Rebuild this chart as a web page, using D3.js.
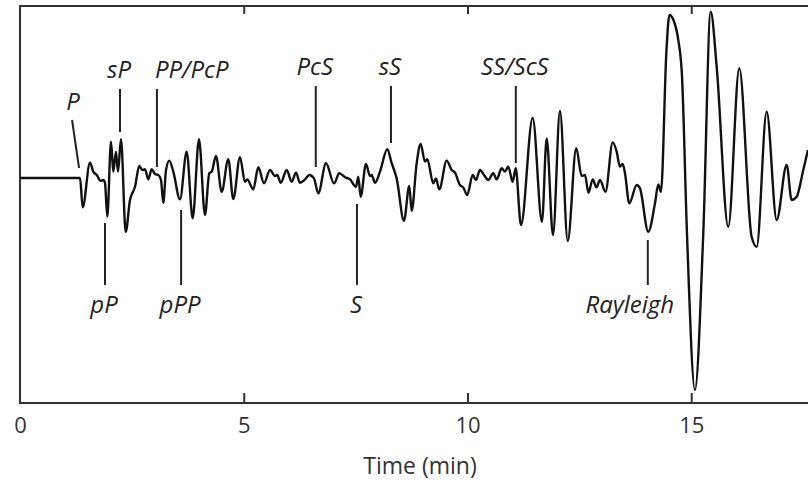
<!DOCTYPE html>
<html lang="en">
<head>
<meta charset="UTF-8"/>
<title>Seismogram - body and surface wave arrivals</title>
<script src="https://d3js.org/d3.v7.min.js"></script>
<style>
	body { margin: 0; background: #fff; }
	.trace { fill: none; stroke: #111; stroke-width: 2.4; stroke-linejoin: round; }
	.frame { fill: none; stroke: #333; stroke-width: 2; }
	.axis line { stroke: #333; stroke-width: 2; }
	.axis text { font-family: "Open Sans", sans-serif; font-size: 22px; fill: #333; }
	.phase { font-family: "Open Sans", sans-serif; font-style: italic; font-size: 24px; fill: #222; }
	.mark { stroke: #222; stroke-width: 2; }
	.xlabel { font-family: "Open Sans", sans-serif; font-size: 23px; fill: #333; }
</style>
</head>
<body>
<div id="chart"></div>
<script>
// trace: time (min) and ground motion (arbitrary units)
var times = [0, 1.341, 1.401, 1.564, 1.638, 1.714, 1.803, 1.861, 1.899, 1.951,
	2.034, 2.085, 2.145, 2.190, 2.257, 2.362, 2.458, 2.570, 2.666, 2.733,
	2.793, 2.867, 2.943, 3.017, 3.091, 3.151, 3.202, 3.263, 3.336, 3.426,
	3.575, 3.725, 3.859, 4.000, 4.134, 4.230, 4.284, 4.380, 4.507, 4.655,
	4.766, 4.916, 5.028, 5.079, 5.213, 5.325, 5.453, 5.587, 5.698, 5.750,
	5.826, 5.960, 6.072, 6.168, 6.257, 6.369, 6.465, 6.570, 6.666, 6.838,
	7.017, 7.135, 7.263, 7.374, 7.508, 7.560, 7.613, 7.732, 7.821, 7.859,
	7.933, 8.045, 8.208, 8.306, 8.418, 8.581, 8.699, 8.753, 8.865, 8.954,
	9.050, 9.102, 9.236, 9.296, 9.370, 9.535, 9.647, 9.721, 9.832, 9.906,
	9.995, 10.116, 10.190, 10.279, 10.369, 10.465, 10.577, 10.653, 10.764, 10.838,
	10.912, 11.010, 11.077, 11.196, 11.457, 11.665, 11.770, 11.911, 12.067, 12.241,
	12.431, 12.552, 12.626, 12.704, 12.798, 12.883, 12.961, 13.084, 13.245, 13.334,
	13.408, 13.468, 13.520, 13.616, 13.781, 13.855, 14.040, 14.190, 14.264, 14.324,
	14.447, 14.514, 14.603, 14.711, 14.793, 14.905, 15.084, 15.270, 15.435, 15.569,
	15.828, 16.074, 16.350, 16.463, 16.686, 16.910, 17.133, 17.245, 17.356, 17.504,
	17.609];
var amplitudes = [0, 0, -1.47, 0.77, 0.32, 0.15, -0.14, -0.10, -0.24, -1.94,
	1.82, 0.32, 1.32, 0.32, 1.94, -2.69, -1.10, -0.44, 0.60, 0.40,
	0.44, -0.07, 0.44, 0.20, 0.15, -0.10, -1.24, 0.40, 0.87, 0.32,
	-1.07, 1.32, -2.02, 1.94, -1.85, 0.24, 0.32, 1.10, -0.69, 0.94,
	-1.05, 1.04, -0.19, -0.07, -0.57, 0.54, -0.27, 0.40, 0.10, 0.15,
	-0.24, 0.40, -0.19, 0.27, -0.24, -0.07, 0.15, -0.02, -0.77, 0.74,
	-0.27, 0.24, 0.04, -0.07, -0.44, 0.07, -0.94, 0.70, 0.10, 0.15,
	-0.24, 0.32, 1.44, 0.74, -0.02, -2.14, -0.40, -1.64, 0.74, 1.70,
	0.82, 0.94, -0.27, -0.02, -0.57, 0.87, 0.40, 0.27, -0.35, -0.47,
	-0.85, 0.15, -0.10, 0.40, 0.15, -0.10, 0.24, -0.07, 0.49, 0.32,
	0.57, -0.19, 0.49, -2.35, 3.00, -2.19, 1.98, -2.85, 3.35, -3.15,
	1.49, 0.10, 0.15, -0.74, -0.07, -0.47, -0.10, -0.69, 1.78, 1.32,
	0.57, 0.70, 0.24, -1.27, -0.35, -0.52, -2.69, -1.27, -0.32, -0.69,
	6.40, 8.15, 7.90, 6.90, 5.15, -2.75, -10.60, -2.75, 8.32, 5.57,
	-2.44, 5.49, -2.94, -3.44, 3.32, -2.10, 0.65, -1.10, -0.94, 0.40,
	1.40];

// phase arrivals
var topPhases = ["P", "sP", "PP/PcP", "PcS", "sS", "SS/ScS"];
var topTimes = [1.32, 2.235, 3.06, 6.61, 8.29, 11.08];
var topTips = [0.5, 2.3, 0.55, 0.55, 1.75, 0.75];

var bottomPhases = ["pP", "pPP", "S", "Rayleigh"];
var bottomTimes = [1.90, 3.60, 7.53, 14.03];
var bottomTips = [-2.25, -1.6, -1.3, -3.1];

var xTicks = [0, 5, 10, 15];

var w = 808;
var h = 482;
var padLeft = 20, padTop = 6, plotBottom = 403;

var xScale = d3.scaleLinear()
	.domain([0, 17.61])
	.range([padLeft, w]);

var yScale = d3.scaleLinear()
	.domain([-11.25, 8.6])
	.range([plotBottom, padTop]);

var svg = d3.select("#chart")
	.append("svg")
	.attr("width", w)
	.attr("height", h);

// frame (right edge runs off the page)
svg.append("rect")
	.attr("class", "frame")
	.attr("x", padLeft)
	.attr("y", padTop)
	.attr("width", w + 20 - padLeft)
	.attr("height", plotBottom - padTop);

var xAxis = d3.axisBottom(xScale)
	.tickValues(xTicks)
	.tickSize(-10)
	.tickPadding(14)
	.tickFormat(d3.format("d"));

var gx = svg.append("g")
	.attr("class", "axis")
	.attr("transform", "translate(0," + plotBottom + ")")
	.call(xAxis);
gx.select(".domain").remove();
gx.selectAll(".tick").filter(function(d){ return d == 0; }).select("line").remove();

var topAxis = d3.axisTop(xScale)
	.tickValues(xTicks.slice(1))
	.tickSize(-8)
	.tickFormat("");

var gt = svg.append("g")
	.attr("class", "axis")
	.attr("transform", "translate(0," + padTop + ")")
	.call(topAxis);
gt.select(".domain").remove();

svg.append("text")
	.attr("class", "xlabel")
	.attr("x", 420)
	.attr("y", 474)
	.attr("text-anchor", "middle")
	.text("Time (min)");

var line = d3.line()
	.curve(d3.curveMonotoneX)
	.x(function(d){ return xScale(d[0]); })
	.y(function(d){ return yScale(d[1]); });

svg.append("path")
	.datum(d3.zip(times, amplitudes))
	.attr("class", "trace")
	.attr("d", line);

// labels above the trace
topPhases.forEach(function(name, i){
	var x = xScale(topTimes[i]);
	var yTip = yScale(topTips[i]);
	if (name == "P") {
		svg.append("line").attr("class", "mark")
			.attr("x1", x - 7).attr("y1", 120)
			.attr("x2", x).attr("y2", yTip);
		svg.append("text").attr("class", "phase")
			.attr("x", x - 6).attr("y", 110)
			.attr("text-anchor", "middle")
			.text(name);
		return;
	}
	var yTop = (i < 3) ? 89 : 86;
	svg.append("line").attr("class", "mark")
		.attr("x1", x).attr("y1", yTop)
		.attr("x2", x).attr("y2", yTip);
	var t = svg.append("text").attr("class", "phase")
		.attr("y", (i < 3) ? 78 : 75)
		.text(name);
	if (name == "PP/PcP") {
		t.attr("x", x - 2).attr("text-anchor", "start");
	} else {
		t.attr("x", x - 1).attr("text-anchor", "middle");
	}
});

// labels below the trace
bottomPhases.forEach(function(name, i){
	var x = xScale(bottomTimes[i]);
	svg.append("line").attr("class", "mark")
		.attr("x1", x).attr("y1", yScale(bottomTips[i]))
		.attr("x2", x).attr("y2", 285);
	svg.append("text").attr("class", "phase")
		.attr("x", name == "Rayleigh" ? x - 18 : x - 1)
		.attr("y", 313)
		.attr("text-anchor", "middle")
		.text(name);
});
</script>
</body>
</html>
